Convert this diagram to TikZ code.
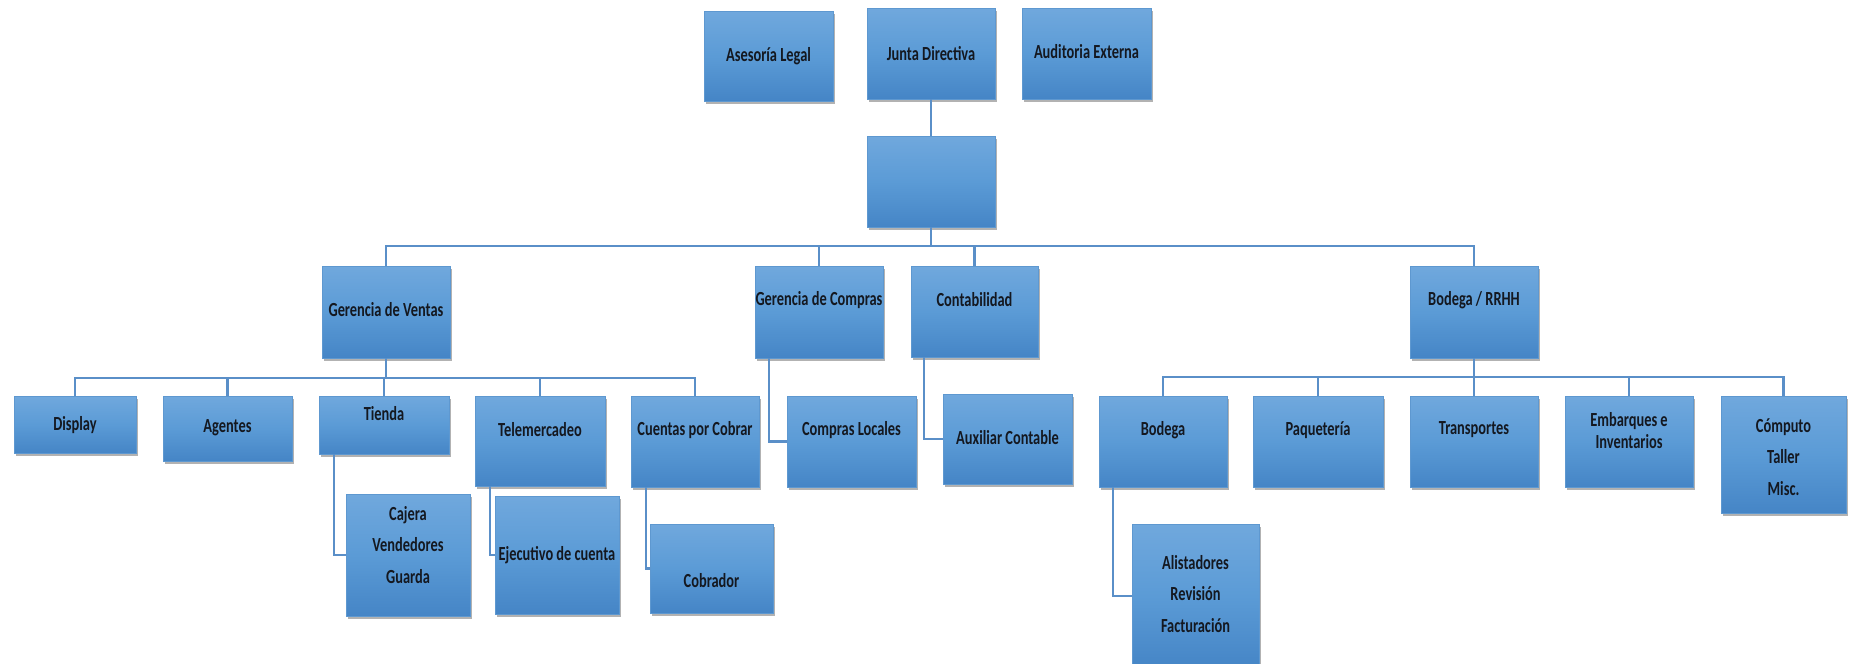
\documentclass[tikz,border=0pt]{standalone}
\usepackage{fontspec}
\newfontfamily\orgfont[FakeStretch=0.72]{Carlito}
\usetikzlibrary{shadows}
\definecolor{boxtop}{HTML}{70A8DD}
\definecolor{boxmid}{HTML}{5B9BD6}
\definecolor{boxbot}{HTML}{4585C6}
\definecolor{boxline}{HTML}{5E98D0}
\definecolor{conn}{HTML}{5A8FC8}
\definecolor{txtc}{HTML}{141820}
\tikzset{
  x=1pt, y=-1pt,
  box/.style={rectangle, inner sep=0pt, outer sep=0pt, draw=boxline, line width=0.5pt,
    top color=boxtop, bottom color=boxbot, middle color=boxmid,
    drop shadow={shadow xshift=1.5pt, shadow yshift=-2.5pt, fill=black, opacity=0.3}},
  txt/.style={inner sep=0pt, align=center, text=txtc,
    font=\orgfont\bfseries\fontsize{20}{31.5}\selectfont},
  conn/.style={draw=conn, line width=2.2pt},
}
\newcommand\orgbox[7]{%
  \node[box, minimum width={(#4-#2)*1pt}, minimum height={(#5-#3)*1pt}] (#1) at ({(#2+#4)/2},{(#3+#5)/2}) {};
  \node[txt] (#1-t) at ({(#2+#4)/2},#6) {#7};}
\newcommand\orgblank[5]{%
  \node[box, minimum width={(#4-#2)*1pt}, minimum height={(#5-#3)*1pt}] (#1) at ({(#2+#4)/2},{(#3+#5)/2}) {};}
\begin{document}
\begin{tikzpicture}
\useasboundingbox[fill=white] (0,0) rectangle (1853,664);
% connectors first (behind boxes)
\coordinate (b1) at (931,246);
\coordinate (b2) at (386,378);
\coordinate (b3) at (1474,377);
% top level
\orgbox{al}{704}{11}{833}{101}{56}{Asesoría Legal}
\orgbox{jd}{867}{8}{995}{99}{54}{Junta Directiva}
\orgbox{ae}{1022}{8}{1151}{99}{52}{Auditoria Externa}
\orgblank{ctr}{867}{136}{995}{227}
% second level
\orgbox{gv}{322}{266}{450}{358}{310}{Gerencia de Ventas}
\orgbox{gc}{755}{266}{883}{358}{300}{Gerencia de Compras}
\orgbox{cont}{911}{266}{1038}{357}{300}{Contabilidad}
\orgbox{brh}{1410}{266}{1538}{358}{300}{Bodega / RRHH}
% ventas
\orgbox{disp}{14}{396}{136}{453}{425}{Display}
\orgbox{age}{163}{396}{292}{461}{428}{Agentes}
\orgbox{tie}{319}{396}{449}{454}{414}{Tienda}
\orgbox{tel}{475}{396}{605}{486}{430}{Telemercadeo}
\orgbox{cxc}{631}{396}{759}{487}{430}{Cuentas por Cobrar}
\orgbox{caj}{346}{494}{470}{616}{545}{Cajera\\Vendedores\\Guarda}
\orgbox{eje}{495}{496}{619}{614}{555}{Ejecutivo de cuenta}
\orgbox{cob}{650}{524}{773}{613}{581}{Cobrador}
% compras, contabilidad
\orgbox{cl}{787}{396}{916}{487}{430}{Compras Locales}
\orgbox{aux}{943}{394}{1072}{484}{438}{Auxiliar Contable}
% bodega
\orgbox{bod}{1099}{396}{1227}{487}{430}{Bodega}
\orgbox{paq}{1253}{396}{1383}{487}{430}{Paquetería}
\orgbox{tra}{1410}{396}{1538}{487}{430}{Transportes}
\orgblank{emb}{1565}{396}{1693}{487}
\node[txt, font=\orgfont\bfseries\fontsize{20}{22}\selectfont] (emb-t) at (1629,431) {Embarques e\\Inventarios};
\orgbox{com}{1721}{396}{1846}{513}{457}{Cómputo\\Taller\\Misc.}
\orgbox{ali}{1132}{524}{1259}{668}{594}{Alistadores\\Revisión\\Facturación}
% connectors
\begin{scope}[on background layer/.style={}]
\end{scope}
\draw[conn] (jd.south) -- (ctr.north);
\draw[conn] (ctr.south) -- (b1);
\draw[conn] (gv.north) |- (b1) -| (brh.north);
\draw[conn] (gc.north) -- (gc.north |- b1);
\draw[conn] (cont.north) -- (cont.north |- b1);
\draw[conn] (gv.south) -- (b2);
\draw[conn] (disp.north) |- (b2) -| (cxc.north);
\draw[conn] (age.north) -- (age.north |- b2);
\draw[conn] (tie.north) -- (tie.north |- b2);
\draw[conn] (tel.north) -- (tel.north |- b2);
\draw[conn] ([xshift=15pt]tie.south west) |- (caj.west);
\draw[conn] ([xshift=15pt]tel.south west) |- (eje.west);
\draw[conn] ([xshift=15pt]cxc.south west) |- (cob.west);
\draw[conn] ([xshift=14pt]gc.south west) |- (cl.west);
\draw[conn] ([xshift=13pt]cont.south west) |- (aux.west);
\draw[conn] (brh.south) -- (b3);
\draw[conn] (bod.north) |- (b3) -| (com.north);
\draw[conn] (paq.north) -- (paq.north |- b3);
\draw[conn] (tra.north) -- (tra.north |- b3);
\draw[conn] (emb.north) -- (emb.north |- b3);
\draw[conn] ([xshift=14pt]bod.south west) |- (ali.west);
\end{tikzpicture}
\end{document}
